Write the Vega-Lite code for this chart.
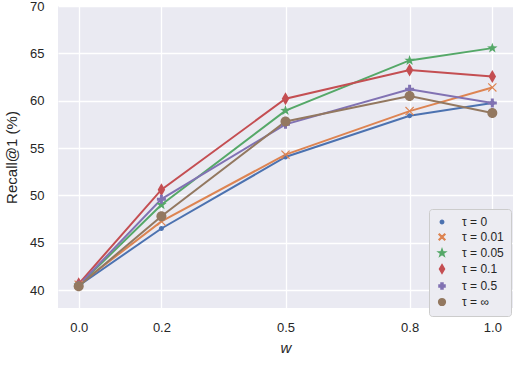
{
  "$schema": "https://vega.github.io/schema/vega-lite/v6.json",
  "width": 455,
  "height": 302,
  "autosize": {"type": "none"},
  "padding": {"left": 58, "top": 6, "right": 1, "bottom": 78},
  "background": "white",
  "config": {
    "view": {"fill": "#EAEAF2", "stroke": null},
    "font": "Liberation Sans",
    "axis": {
      "domain": false,
      "ticks": false,
      "gridColor": "white",
      "gridWidth": 1.3,
      "labelColor": "#262626",
      "titleColor": "#262626",
      "labelFont": "Liberation Sans",
      "titleFont": "Liberation Sans",
      "labelFontSize": 13,
      "titleFontSize": 15,
      "titleFontWeight": "normal"
    }
  },
  "data": {
    "values": [
      {"w": 0.0, "recall": 40.45, "tau": "τ = 0"},
      {"w": 0.2, "recall": 46.5, "tau": "τ = 0"},
      {"w": 0.5, "recall": 54.05, "tau": "τ = 0"},
      {"w": 0.8, "recall": 58.4, "tau": "τ = 0"},
      {"w": 1.0, "recall": 59.75, "tau": "τ = 0"},
      {"w": 0.0, "recall": 40.55, "tau": "τ = 0.01"},
      {"w": 0.2, "recall": 47.25, "tau": "τ = 0.01"},
      {"w": 0.5, "recall": 54.3, "tau": "τ = 0.01"},
      {"w": 0.8, "recall": 58.9, "tau": "τ = 0.01"},
      {"w": 1.0, "recall": 61.4, "tau": "τ = 0.01"},
      {"w": 0.0, "recall": 40.5, "tau": "τ = 0.05"},
      {"w": 0.2, "recall": 49.0, "tau": "τ = 0.05"},
      {"w": 0.5, "recall": 58.95, "tau": "τ = 0.05"},
      {"w": 0.8, "recall": 64.25, "tau": "τ = 0.05"},
      {"w": 1.0, "recall": 65.55, "tau": "τ = 0.05"},
      {"w": 0.0, "recall": 40.65, "tau": "τ = 0.1"},
      {"w": 0.2, "recall": 50.6, "tau": "τ = 0.1"},
      {"w": 0.5, "recall": 60.2, "tau": "τ = 0.1"},
      {"w": 0.8, "recall": 63.25, "tau": "τ = 0.1"},
      {"w": 1.0, "recall": 62.55, "tau": "τ = 0.1"},
      {"w": 0.0, "recall": 40.5, "tau": "τ = 0.5"},
      {"w": 0.2, "recall": 49.6, "tau": "τ = 0.5"},
      {"w": 0.5, "recall": 57.5, "tau": "τ = 0.5"},
      {"w": 0.8, "recall": 61.2, "tau": "τ = 0.5"},
      {"w": 1.0, "recall": 59.75, "tau": "τ = 0.5"},
      {"w": 0.0, "recall": 40.4, "tau": "τ = ∞"},
      {"w": 0.2, "recall": 47.8, "tau": "τ = ∞"},
      {"w": 0.5, "recall": 57.8, "tau": "τ = ∞"},
      {"w": 0.8, "recall": 60.5, "tau": "τ = ∞"},
      {"w": 1.0, "recall": 58.7, "tau": "τ = ∞"}
    ]
  },
  "encoding": {
    "x": {
      "field": "w",
      "type": "quantitative",
      "scale": {"domain": [-0.05, 1.05], "nice": false, "zero": false},
      "axis": {"values": [0, 0.2, 0.5, 0.8, 1.0], "format": ".1f", "title": "w", "titleFontStyle": "italic", "labelPadding": 13, "titlePadding": 6}
    },
    "y": {
      "field": "recall",
      "type": "quantitative",
      "scale": {"domain": [38.1, 70], "nice": false, "zero": false},
      "axis": {"values": [40, 45, 50, 55, 60, 65, 70], "title": "Recall@1 (%)", "labelPadding": 14, "titlePadding": 10}
    },
    "color": {
      "field": "tau",
      "type": "nominal",
      "scale": {
        "domain": ["τ = 0", "τ = 0.01", "τ = 0.05", "τ = 0.1", "τ = 0.5", "τ = ∞"],
        "range": ["#4C72B0", "#DD8452", "#55A868", "#C44E52", "#8172B3", "#937860"]
      },
      "legend": {
        "title": null,
        "orient": "none",
        "legendX": 371,
        "legendY": 203,
        "fillColor": "#ECECF2",
        "strokeColor": "#CCCCCC",
        "cornerRadius": 3,
        "padding": 7,
        "labelFontSize": 12,
        "labelColor": "#262626",
        "labelOffset": 14,
        "symbolSize": 45,
        "rowPadding": 2,
        "symbolOpacity": 1
      }
    }
  },
  "layer": [
    {
      "mark": {"type": "line", "strokeWidth": 2},
      "encoding": {"order": {"field": "w", "type": "quantitative"}}
    },
    {
      "mark": {"type": "point", "filled": true, "opacity": 1, "size": 100},
      "encoding": {
        "shape": {
          "field": "tau",
          "type": "nominal",
          "scale": {
            "domain": ["τ = 0", "τ = 0.01", "τ = 0.05", "τ = 0.1", "τ = 0.5", "τ = ∞"],
            "range": [
              "M-0.5,0A0.5,0.5 0 1,0 0.5,0A0.5,0.5 0 1,0 -0.5,0Z",
              "M-0.9,-0.74L-0.74,-0.9L0,-0.16L0.74,-0.9L0.9,-0.74L0.16,0L0.9,0.74L0.74,0.9L0,0.16L-0.74,0.9L-0.9,0.74L-0.16,0Z",
              "M0,-1.1L0.259,-0.356L1.046,-0.34L0.418,0.136L0.647,0.89L0,0.44L-0.647,0.89L-0.418,0.136L-1.046,-0.34L-0.259,-0.356Z",
              "M0,-1.3L0.75,0L0,1.3L-0.75,0Z",
              "M-0.3,-0.9L0.3,-0.9L0.3,-0.3L0.9,-0.3L0.9,0.3L0.3,0.3L0.3,0.9L-0.3,0.9L-0.3,0.3L-0.9,0.3L-0.9,-0.3L-0.3,-0.3Z",
              "M-1,0A1,1 0 1,0 1,0A1,1 0 1,0 -1,0Z"
            ]
          },
          "legend": {"title": null}
        }
      }
    }
  ]
}
